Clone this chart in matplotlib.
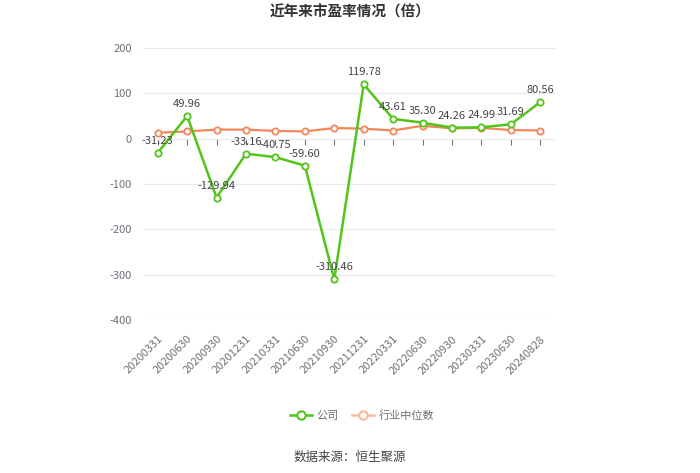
import matplotlib
matplotlib.use("Agg")
import matplotlib.pyplot as plt
from matplotlib.lines import Line2D

plt.rcParams['font.family'] = ['Noto Sans CJK SC', 'DejaVu Sans']

categories = ["20200331", "20200630", "20200930", "20201231", "20210331", "20210630",
              "20210930", "20211231", "20220331", "20220630", "20220930", "20230331",
              "20230630", "20240828"]
company = [-31.23, 49.96, -129.94, -33.16, -40.75, -59.60, -310.46, 119.78,
           43.61, 35.30, 24.26, 24.99, 31.69, 80.56]
industry = [13, 16, 20, 20, 17, 16, 23.5, 22, 18, 28.5, 22.7, 23.7, 19, 18]
yticks = [-400, -300, -200, -100, 0, 100, 200]

green = '#52c41a'
orange = '#f3875a'
gray = '#6e7079'

fig = plt.figure(figsize=(7, 4.73), dpi=100)
ax = fig.add_axes([143/700, 1-320/473, (555-143)/700, (320-48)/473])

x = list(range(len(categories)))
ax.plot(x, industry, color=orange, lw=1.6, marker='o', ms=4.5, mfc='white',
        mec=orange, mew=1.3, zorder=3)
ax.plot(x, company, color=green, lw=1.8, marker='o', ms=4.5, mfc='white',
        mec=green, mew=1.3, zorder=4)

for xi, v in zip(x, company):
    ax.annotate(f"{v:.2f}", (xi, v), xytext=(0, 5), textcoords='offset points',
                ha='center', va='bottom', fontsize=8, color='#444444', zorder=5)

ymin, ymax = -400, 200
ax.set_xlim(-0.5, len(categories)-0.5)
ax.set_ylim(ymin, ymax)
ax.set_yticks(yticks)
ax.set_yticklabels([str(t) for t in yticks], color=gray, fontsize=8)
ax.set_xticks(x)
ax.set_xticklabels(categories, rotation=45, ha='right', rotation_mode='anchor',
                   color=gray, fontsize=8)
ax.tick_params(axis='y', length=0, pad=8)
ax.tick_params(axis='x', length=0, pad=10)
ax.grid(axis='y', color='#e6e9f0', lw=0.8)
ax.set_axisbelow(True)
for s in ['top', 'right', 'left', 'bottom']:
    ax.spines[s].set_visible(False)

# x axis line with ticks at zero
zero_frac = (0 - ymin) / (ymax - ymin)
sec = ax.secondary_xaxis(zero_frac)
sec.set_xticks(x)
sec.tick_params(axis='x', direction='out', length=4, color=gray, labelbottom=False,
                labeltop=False, bottom=True, top=False)
sec.xaxis.set_ticks_position('bottom')
sec.set_xticklabels([])
for s in ['top', 'right', 'left']:
    sec.spines[s].set_visible(False)
sec.spines['bottom'].set_color(gray)
sec.spines['bottom'].set_linewidth(0.9)

fig.text(350/700, 1-12/473, "近年来市盈率情况（倍）", ha='center', va='center',
         fontsize=10.5, fontweight='bold', color='#333333')

handles = [Line2D([], [], color=green, lw=1.8, marker='o', ms=6, mfc='white', mec=green, mew=1.5),
           Line2D([], [], color='#f6b9a0', lw=1.8, marker='o', ms=6, mfc='white', mec='#f6b9a0', mew=1.5)]
leg = fig.legend(handles, ["公司", "行业中位数"], loc='center', bbox_to_anchor=(362/700, 1-416/473),
                 ncol=2, frameon=False, fontsize=8, handlelength=2, columnspacing=1.2,
                 handletextpad=0.4)
for t in leg.get_texts():
    t.set_color(gray)

fig.text(350/700, 1-457/473, "数据来源：恒生聚源", ha='center', va='center',
         fontsize=9, color='#444444')

fig.savefig("out.png", dpi=100)
